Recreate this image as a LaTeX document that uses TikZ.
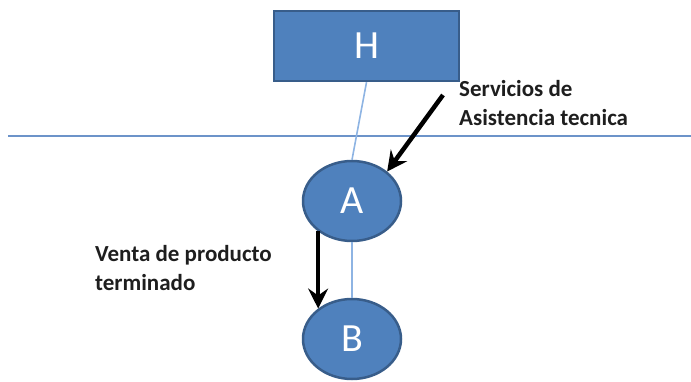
\documentclass[tikz,border=0pt]{standalone}
\usepackage{fontspec}
\setmainfont{Carlito}
\usetikzlibrary{shapes.geometric,arrows.meta}
\definecolor{boxfill}{HTML}{4F81BD}
\definecolor{boxline}{HTML}{385D8A}
\definecolor{hline}{HTML}{6C93C9}
\definecolor{linkline}{HTML}{8EB4E3}
\definecolor{lbl}{HTML}{1E1E1E}
\tikzset{
  box/.style={draw=boxline, line width=2.5pt, fill=boxfill, text=white, minimum width=185pt, minimum height=70pt, inner sep=0pt, font=\fontsize{40}{48}\selectfont},
  oval/.style={ellipse, draw=boxline, line width=2.5pt, fill=boxfill, text=white, minimum width=98pt, minimum height=80pt, inner sep=0pt, font=\fontsize{40}{48}\selectfont},
  link/.style={draw=linkline, line width=1.6pt},
  flow/.style={draw=black, line width=4.5pt, -{Stealth[length=20pt,width=20pt,inset=7pt]}},
  lbltext/.style={text=lbl, align=left, inner sep=0pt, font=\fontsize{23}{29}\selectfont\bfseries}
}
\begin{document}
\begin{tikzpicture}[x=1pt,y=-1pt]
\useasboundingbox (0,0) rectangle (691,382);
\draw[draw=hline, line width=2.2pt] (8,136) coordinate (l1) -- (691,136) coordinate (l2);
\node[box] (H) at (366.5,46) {H};
\node[oval] (A) at (352,201) {A};
\node[oval] (B) at (352,339) {B};
\draw[link] (H.south) -- (A.north);
\draw[link] (A.south) -- (B.north);
\coordinate (s1) at (443,95);
\draw[flow] (s1) -- (A.40);
\draw[flow] (A.222) -- (A.222 |- B.138);
\node[lbltext, anchor=north west] (ls) at (459,80) {Servicios de\\Asistencia tecnica};
\node[lbltext, anchor=north west] (lv) at (95,245) {Venta de producto\\terminado};
\end{tikzpicture}
\end{document}
